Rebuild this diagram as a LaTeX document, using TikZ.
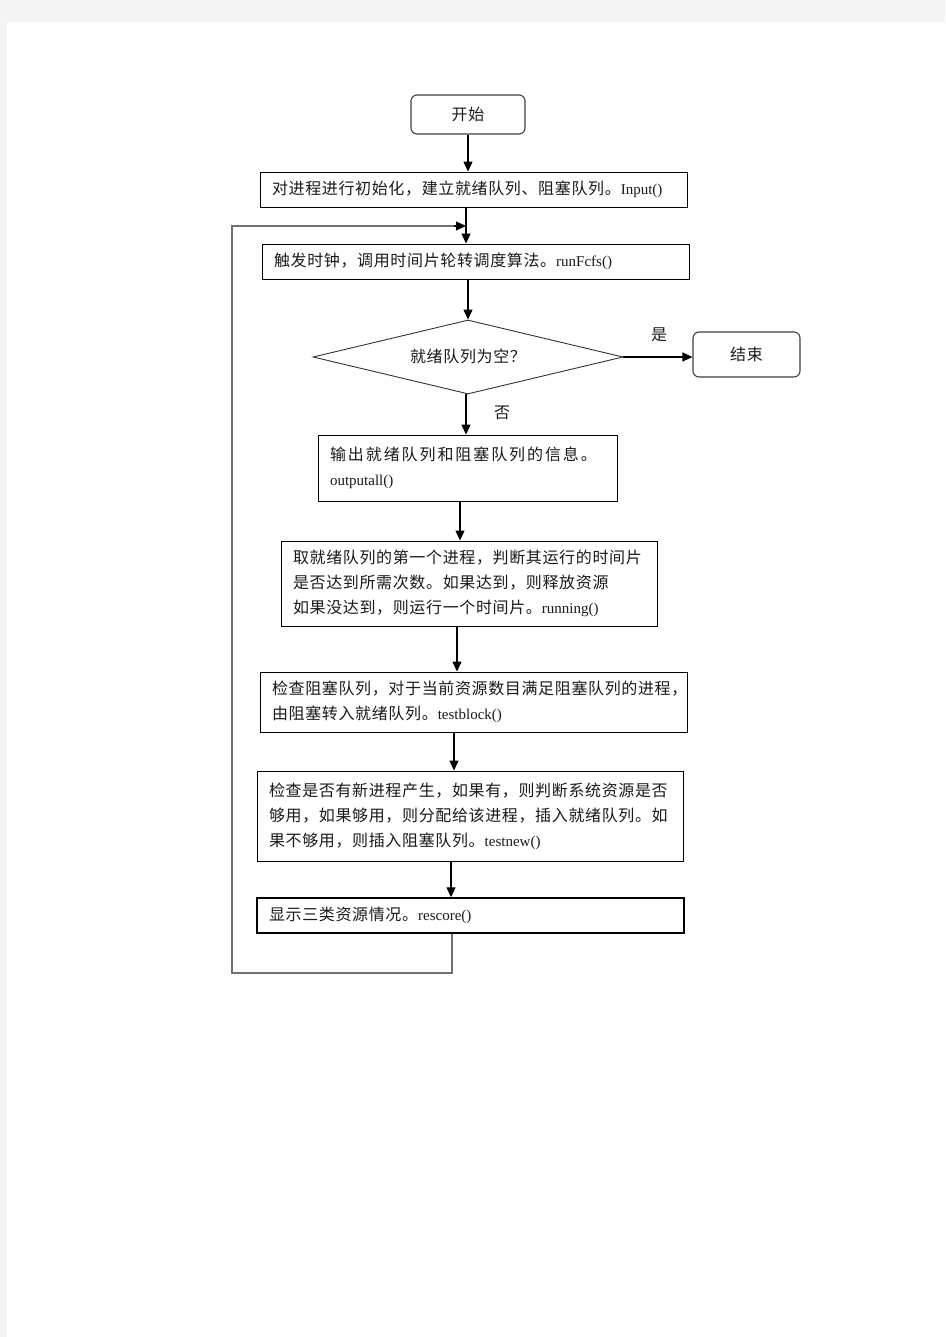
\documentclass[tikz,border=0pt]{standalone}
\usepackage{fontspec}
\setmainfont{Noto Sans CJK SC}[LetterSpace=4]
\newfontfamily\lat{Liberation Serif}
\usetikzlibrary{arrows.meta,shapes.geometric,calc}
\definecolor{pagegray}{HTML}{F4F4F4}
\definecolor{loopgray}{HTML}{707070}
\definecolor{ink}{HTML}{1A1A1A}
\tikzset{
  cjkfont/.style={font=\fontsize{16}{25}\selectfont, text=ink},
  procbox/.style={draw=black, line width=0.9pt, rectangle, cjkfont, align=left, inner xsep=12pt, inner ysep=0pt},
  termbox/.style={draw=black!75, line width=1.1pt, rectangle, rounded corners=6pt, cjkfont, inner sep=0pt},
  decbox/.style={draw=black!80, line width=0.9pt, diamond, aspect=4.19, minimum width=310pt, inner sep=0pt, cjkfont},
  arr/.style={draw=black, line width=1.2pt, -{Triangle[length=10pt,width=9pt]}},
  loopline/.style={draw=loopgray, line width=1.5pt},
  lbl/.style={cjkfont, inner sep=0pt}
}
\newcommand{\fn}[1]{{\lat\fontsize{15}{25}\selectfont #1}}
\begin{document}
\begin{tikzpicture}[x=1pt,y=-1pt]
\fill[pagegray] (0,0) rectangle (945,1337);
\fill[white] (7,22) rectangle (945,1337);
\useasboundingbox (0,0) rectangle (945,1337);

\node[termbox, minimum width=114pt, minimum height=39pt] (start) at (468,114.5) {开始};
\node[procbox, text width=403pt, minimum height=35pt] (init) at (473.5,189.5) {对进程进行初始化，建立就绪队列、阻塞队列。\fn{Input()}};
\node[procbox, text width=403pt, minimum height=35pt] (run) at (475.5,261.5) {触发时钟，调用时间片轮转调度算法。\fn{runFcfs()}};
\node[decbox, minimum height=74pt] (dia) at (468,357) {\raisebox{2pt}{就绪队列为空？}};
\node[termbox, minimum width=107pt, minimum height=45pt] (end) at (746.5,354.5) {\raisebox{2pt}{结束}};
\node[procbox, text width=275pt, minimum height=66pt] (out) at (467.5,468) {\addfontfeature{LetterSpace=12}输出就绪队列和阻塞队列的信息。\\\fn{outputall()}};
\node[procbox, text width=352pt, minimum height=85pt, line width=1pt] (runn) at (469,583.5) {取就绪队列的第一个进程，判断其运行的时间片\\是否达到所需次数。如果达到，则释放资源\\如果没达到，则运行一个时间片。\fn{running()}};
\draw[line width=1.6pt] (runn.north east) -- (runn.south east) -- (runn.south west);
\node[procbox, text width=403pt, minimum height=60pt] (tb) at (473.5,702) {检查阻塞队列，对于当前资源数目满足阻塞队列的进程，\\由阻塞转入就绪队列。\fn{testblock()}};
\node[procbox, text width=402pt, minimum height=90pt] (tn) at (470,816) {检查是否有新进程产生，如果有，则判断系统资源是否\\够用，如果够用，则分配给该进程，插入就绪队列。如\\果不够用，则插入阻塞队列。\fn{testnew()}};
\node[procbox, text width=403pt, minimum height=35pt, line width=1.5pt] (rs) at (470.5,915.5) {显示三类资源情况。\fn{rescore()}};

\coordinate (xa) at (466,0);
\coordinate (xb) at (460,0);
\coordinate (xc) at (457,0);
\coordinate (xd) at (454,0);
\coordinate (xe) at (451,0);
\coordinate (xf) at (452,0);
\coordinate (loopin) at (466,226);
\coordinate (loopcorner) at (232,973);

\draw[arr] (start.south) -- (start.south |- init.north);
\draw[arr] (init.south -| xa) -- (run.north -| xa);
\draw[arr] (run.south -| dia.north) -- (dia.north);
\draw[arr] (dia.east) -- (end.west |- dia.east);
\draw[arr] (dia.south -| xa) -- (out.north -| xa);
\draw[arr] (out.south -| xb) -- (runn.north -| xb);
\draw[arr] (runn.south -| xc) -- (tb.north -| xc);
\draw[arr] (tb.south -| xd) -- (tn.north -| xd);
\draw[arr] (tn.south -| xe) -- (rs.north -| xe);

\draw[loopline] (rs.south -| xf) -- (xf |- loopcorner) -- (loopcorner) -- (loopcorner |- loopin) -- ($(loopin)+(-10,0)$);
\draw[arr] ($(loopin)+(-12,0)$) -- (loopin);

\node[lbl] (yes) at (659,335) {是};
\node[lbl] (no) at (502,413) {否};
\end{tikzpicture}
\end{document}
